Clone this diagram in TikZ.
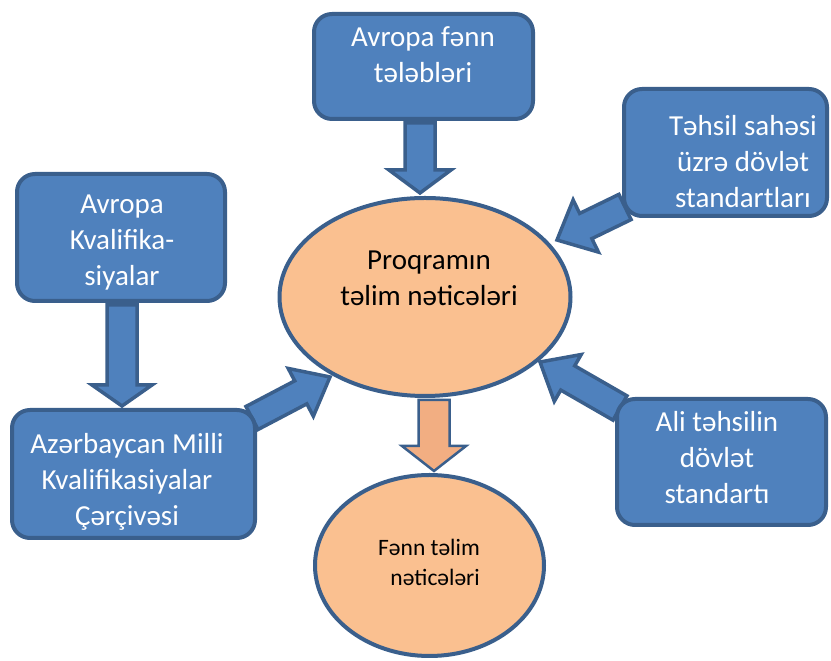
\documentclass[tikz,border=0pt]{standalone}
\usepackage{fontspec}
\setmainfont{Carlito}
\usetikzlibrary{shapes.geometric,calc}
\pgfdeclarelayer{background}
\pgfsetlayers{background,main}
\definecolor{boxblue}{HTML}{4F81BD}
\definecolor{edgeblue}{HTML}{3A5F8C}
\definecolor{peach}{HTML}{FAC090}
\definecolor{peachdark}{HTML}{F2AE82}
\newcommand{\blockarrow}[6]{%
  \coordinate (bas) at #2;
  \coordinate (bae) at #3;
  \coordinate (bah) at ($(bae)!#6!(bas)$);
  \draw[#1] ($(bas)!#4!90:(bae)$) -- ($(bah)!#4!90:(bae)$) -- ($(bah)!#5!90:(bae)$) -- (bae)
    -- ($(bah)!#5!-90:(bae)$) -- ($(bah)!#4!-90:(bae)$) -- ($(bas)!#4!-90:(bae)$) -- cycle;
}
\tikzset{
  bluebox/.style={draw=edgeblue, fill=boxblue, line width=4pt, rounded corners=18pt, inner sep=0pt},
  peachell/.style={ellipse, draw=edgeblue, fill=peach, line width=4pt, inner sep=0pt},
  whitetext/.style={text=white, align=center, font=\fontsize{29}{36}\selectfont, inner sep=0pt},
  blacktext/.style={text=black, align=center, font=\fontsize{29}{36}\selectfont, inner sep=0pt},
  smalltext/.style={text=black, align=right, font=\fontsize{23.5}{30}\selectfont, inner sep=0pt},
  bluearrow/.style={draw=edgeblue, fill=boxblue, line width=3.5pt},
  peacharrow/.style={draw=edgeblue, fill=peachdark, line width=2.5pt},
}
\begin{document}
\begin{tikzpicture}[x=1pt,y=1pt]
\useasboundingbox (0,0) rectangle (831,661);
% boxes
\node[bluebox, minimum width=219pt, minimum height=105pt] (b1) at (423.5,594.5) {};
\node[bluebox, minimum width=208pt, minimum height=127pt] (b2) at (121,423.5) {};
\node[bluebox, minimum width=243pt, minimum height=128pt] (b3) at (133.5,187) {};
\node[bluebox, minimum width=203pt, minimum height=127pt] (b4) at (725.5,508.5) {};
\node[bluebox, minimum width=209pt, minimum height=126pt] (b5) at (721.5,199) {};
% ellipses
\node[peachell, minimum width=291pt, minimum height=198pt] (prog) at (425,364) {};
\node[peachell, minimum width=229pt, minimum height=181pt] (fenn) at (429.5,95.5) {};
% texts
\node[whitetext] (t1) at (423,606) {Avropa fənn\\tələbləri};
\node[whitetext] (t2) at (122,418.5) {Avropa\\Kvalifika-\\siyalar};
\node[whitetext] (t3) at (127,179) {Azərbaycan Milli\\Kvalifikasiyalar\\Çərçivəsi};
\node[whitetext] (t4) at (743,499.5) {Təhsil sahəsi\\üzrə dövlət\\standartları};
\node[whitetext] (t5) at (717,203.5) {Ali təhsilin\\dövlət\\standartı};
\node[blacktext] (tp) at (429,383) {Proqramın\\təlim nəticələri};
\node[smalltext] (tf) at (429,99) {Fənn təlim\\nəticələri};
% block arrows
\begin{pgfonlayer}{background}
\blockarrow{bluearrow}{($(b1.south)+(-3.5,-2)$)}{($(prog.north)+(-5,3)$)}{15pt}{31pt}{23pt}
\blockarrow{bluearrow}{($(b2.south)+(1,-2)$)}{($(b3.north)+(-11.5,2)$)}{15pt}{30pt}{21pt}
\blockarrow{bluearrow}{($(b3.north east)+(-5,-10)$)}{($(prog.center)+(-95,-80)$)}{13pt}{27pt}{33pt}
\blockarrow{bluearrow}{($(b4.south west)+(3,11)$)}{($(prog.center)+(132,57)$)}{14pt}{29pt}{32pt}
\blockarrow{bluearrow}{($(b5.north west)+(5,-11)$)}{($(prog.center)+(115,-65)$)}{14pt}{27pt}{32pt}
\blockarrow{peacharrow}{($(prog.south)+(9,-2)$)}{($(fenn.north)+(4.5,2)$)}{15.5pt}{32pt}{25pt}
\end{pgfonlayer}
\end{tikzpicture}
\end{document}
